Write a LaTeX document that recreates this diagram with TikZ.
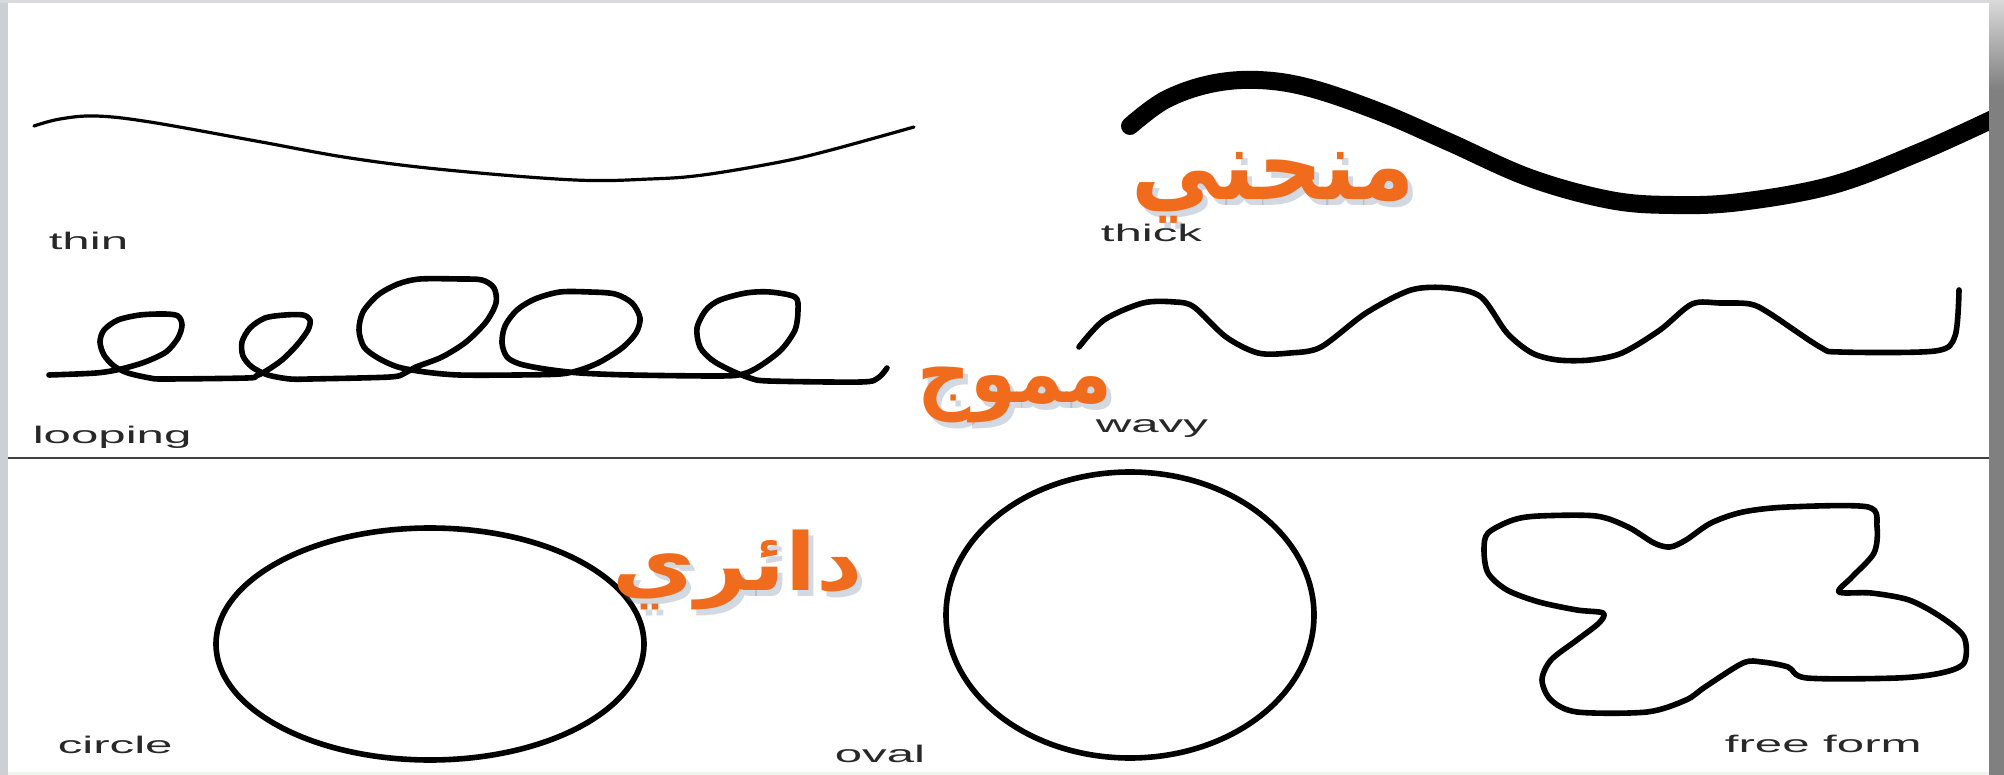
\documentclass[tikz,border=0pt]{standalone}
\usepackage{fontspec}
\usepackage{graphicx}
\newfontfamily\lab{Liberation Sans}
\newfontfamily\arabicfont[Script=Arabic]{DejaVu Sans}
\TeXXeTstate=1
\definecolor{orng}{RGB}{240,108,28}
\definecolor{shad}{RGB}{110,130,165}
\definecolor{labgray}{RGB}{40,40,40}
\definecolor{leftstrip}{RGB}{204,208,212}
\definecolor{topstrip}{RGB}{216,219,221}
\definecolor{rightstrip}{RGB}{128,128,128}
\definecolor{rightlight}{RGB}{218,218,218}
\definecolor{bottomstrip}{RGB}{236,246,236}
\tikzset{
  lbl/.style={font=\lab\fontsize{12}{14}\selectfont, text=labgray, xscale=2.05, inner sep=0pt, anchor=base west},
  pen/.style={line width=2.8pt, line join=round, line cap=round},
  thinpen/.style={line width=1.6pt, line cap=round},
  thickpen/.style={line width=9pt, line cap=round},
  arab/.style={inner sep=0pt, text=orng},
  arabshadow/.style={inner sep=0pt, text=shad, opacity=0.3},
}
\begin{document}
\begin{tikzpicture}[x=0.5pt,y=-0.5pt]
\useasboundingbox (0,0) rectangle (2004,775);
\fill[white] (0,0) rectangle (2004,775);

% thin curve
\draw[thinpen] plot[smooth, tension=0.6] coordinates {(34,126) (60,119) (96,116) (150,122) (256,141) (350,158) (447,170) (575,180) (650,179) (703,175) (780,162) (831,150) (914,127)};

% thick curve
\draw[thickpen] plot[smooth, tension=0.6] coordinates {(1130,126) (1165,100) (1210,84) (1258,80) (1310,88) (1380,112) (1449,142) (1530,178) (1610,200) (1673,205) (1740,202) (1833,185) (1920,152) (1995,118)};

% looping line
\draw[pen] plot[smooth, tension=0.5] coordinates {
 (49,375) (96,373) (121,369) (145,362) (166,352) (178,338) (182,325) (178,316) (165,314) (140,315) (118,320) (104,330) (100,342) (104,355) (114,366) (128,373) (150,378) (165,379)
 (247,378) (256,376) (266,371) (282,360) (297,345) (308,330) (310,320) (303,315) (285,315) (265,318) (250,328) (242,342) (243,356) (252,367) (268,375) (290,379) (310,379)
 (390,377) (405,373) (416,367) (442,357) (466,342) (486,322) (496,303) (494,288) (482,280) (460,279) (420,279) (398,284) (378,295) (363,312) (359,330) (364,347) (378,358) (398,367) (425,372) (459,375)
 (517,375) (560,374) (580,370) (600,362) (622,348) (636,333) (640,318) (632,303) (615,294) (590,292) (560,292) (535,299) (517,310) (505,326) (502,343) (507,357) (520,364) (545,369) (580,373) (631,375)
 (720,376) (743,374) (760,366) (781,350) (795,330) (798,310) (795,297) (770,292) (746,293) (720,300) (706,310) (697,328) (700,347) (712,360) (730,370) (750,378) (769,381)
 (861,382) (878,378) (887,368)};

% wavy line
\draw[pen] plot[smooth, tension=0.5] coordinates {(1079,347) (1104,320) (1143,303) (1175,302) (1194,307) (1226,337) (1258,353) (1290,353) (1321,347) (1366,313) (1411,290) (1449,288) (1481,297) (1507,333) (1532,353) (1558,360) (1590,360) (1622,353) (1660,330) (1692,304) (1720,303) (1750,304) (1769,313) (1820,347) (1840,352) (1935,351) (1955,336) (1959,290)};

% separator
\coordinate (sepL) at (8,458);
\coordinate (sepR) at (1989,458);
\draw[line width=1.3pt, black!75] (sepL) -- (sepR);

% circle, oval
\draw[pen] (430,644) ellipse [x radius=214, y radius=116];
\draw[pen] (1130,615) ellipse [x radius=184, y radius=143];

% free form
\draw[pen] plot[smooth cycle, tension=0.5] coordinates {(1488,533) (1513,520) (1539,516) (1596,516) (1628,527) (1654,543) (1670,547) (1686,540) (1711,523) (1743,512) (1788,507) (1868,507) (1877,527) (1874,553) (1852,577) (1839,592) (1871,593) (1909,600) (1941,617) (1964,637) (1964,663) (1941,673) (1897,678) (1807,678) (1788,667) (1762,662) (1743,663) (1705,687) (1686,700) (1647,712) (1577,712) (1551,700) (1542,680) (1551,660) (1577,640) (1599,623) (1603,613) (1577,610) (1539,602) (1507,590) (1488,573) (1484,550)};

% labels
\node[lbl] (thinlbl) at (48,250) {thin};
\node[lbl] (thicklbl) at (1100,242) {thick};
\node[lbl] (looplbl) at (32,444) {looping};
\node[lbl] (wavylbl) at (1095,432) {wavy};
\node[lbl] (circlelbl) at (57,753) {circle};
\node[lbl] (ovallbl) at (834,762) {oval};
\node[lbl] (freelbl) at (1724,752) {free form};

% arabic labels
\node[arabshadow] (ar1s) at (1278,194) {\resizebox*{141.5pt}{35.5pt}{\arabicfont\bfseries\beginR منحني\endR}};
\node[arab] (ar1) at (1273,188) {\resizebox*{141.5pt}{35.5pt}{\arabicfont\bfseries\beginR منحني\endR}};
\node[arabshadow] (ar2s) at (1020,401) {\resizebox*{97.5pt}{28pt}{\arabicfont\bfseries\beginR مموج\endR}};
\node[arab] (ar2) at (1015,395) {\resizebox*{97.5pt}{28pt}{\arabicfont\bfseries\beginR مموج\endR}};
\node[arabshadow] (ar3s) at (743,576) {\resizebox*{125pt}{40pt}{\arabicfont\bfseries\beginR دائري\endR}};
\node[arab] (ar3) at (738,570) {\resizebox*{125pt}{40pt}{\arabicfont\bfseries\beginR دائري\endR}};

% frame strips
\fill[leftstrip] (0,0) rectangle (8,775);
\fill[topstrip] (0,0) rectangle (2004,3);
\shade[top color=rightlight, bottom color=rightstrip] (1989,0) rectangle (2004,90);
\fill[rightstrip] (1989,90) rectangle (2004,775);
\fill[bottomstrip] (8,772) rectangle (1989,775);
\end{tikzpicture}
\end{document}
